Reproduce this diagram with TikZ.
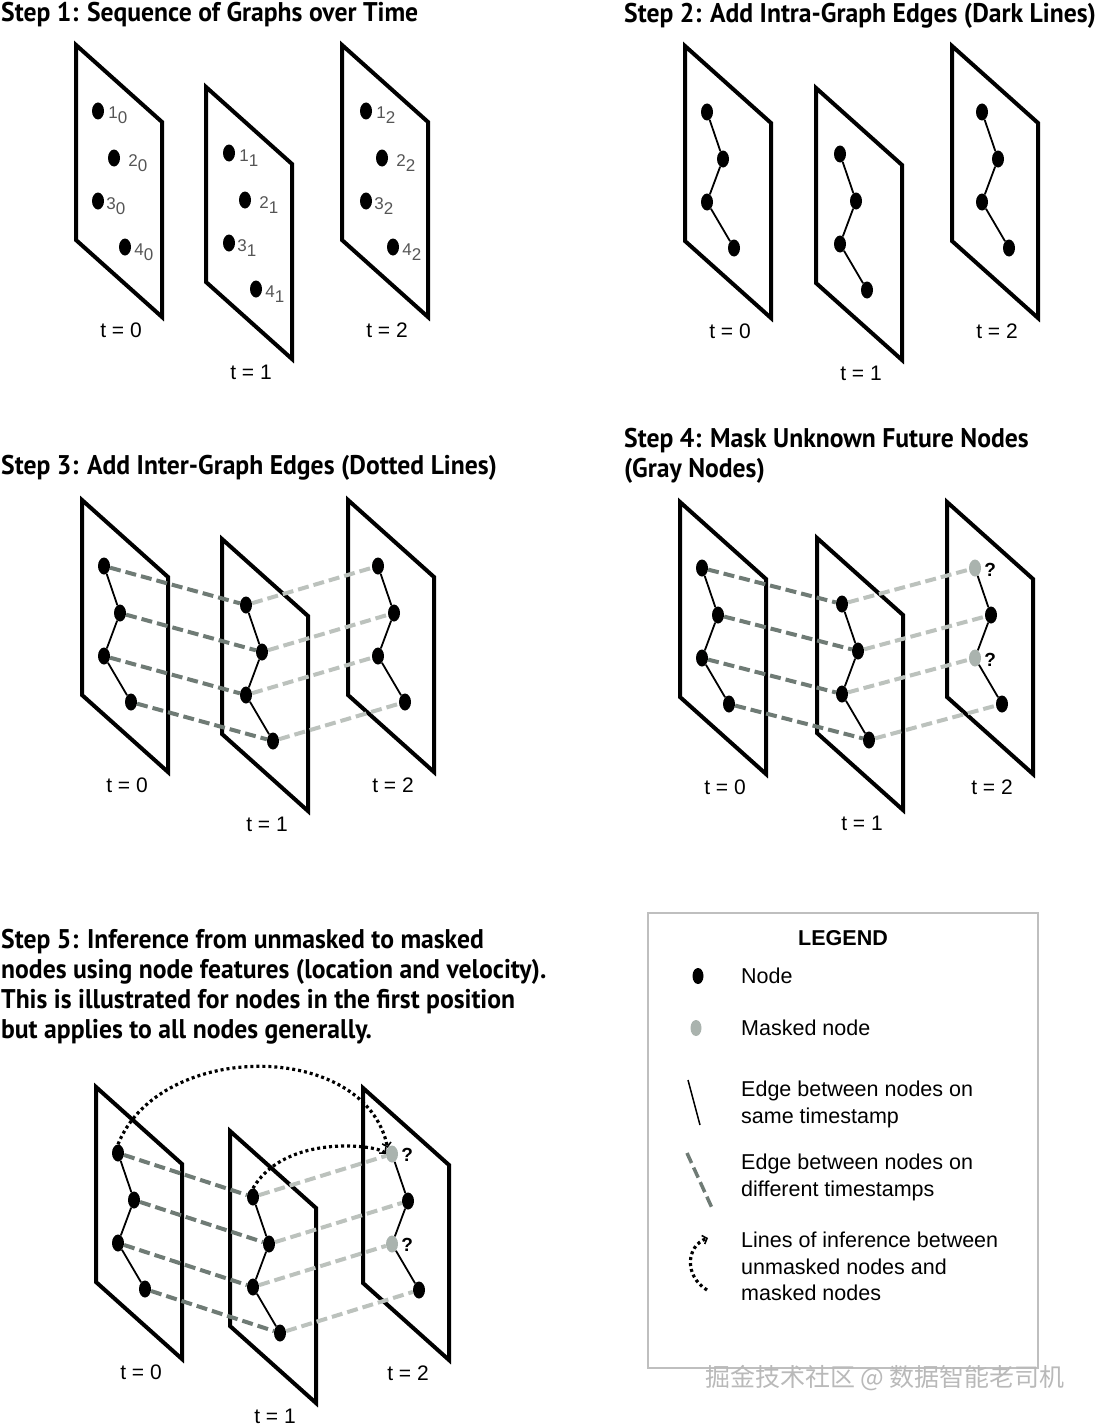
\documentclass[tikz,border=0pt]{standalone}
\usepackage{fontspec}
\setmainfont{Liberation Sans}
\newfontfamily\ttlfont{PT Sans}
\newfontfamily\cjkfont{Noto Sans CJK SC}
\usetikzlibrary{shapes.geometric,arrows.meta,positioning}

\definecolor{darkdash}{HTML}{6F7B75}
\definecolor{lightdash}{HTML}{BCC2BD}
\definecolor{maskgray}{HTML}{AAB3AE}
\definecolor{labelgray}{HTML}{555555}

\newcommand{\sx}[1]{\scalebox{0.95}[1]{#1}}
\newcommand{\sub}[1]{\raisebox{-5pt}{#1}}

% one graph at a time: frame, four nodes, time label
\newcommand{\gpanel}[6]{%
  \begin{scope}[shift={(#2,#3)}]
    \draw[pframe] (0,0) -- (86,77) -- (86,272) -- (0,195) -- cycle;
    \node[#5]    (#1-1) at (22+#4,66)  {};
    \node[gnode] (#1-2) at (38+#4,113) {};
    \node[#5]    (#1-3) at (22+#4,156) {};
    \node[gnode] (#1-4) at (49+#4,202) {};
    \node[tlab]  (#1-t) at (45,292) {t = #6};
  \end{scope}}

\tikzset{
  pframe/.style={line width=4pt},
  gnode/.style={ellipse, fill=black, inner sep=0pt, minimum width=12pt, minimum height=17pt},
  mnode/.style={gnode, fill=maskgray},
  intra/.style={line width=1.8pt},
  interdark/.style={darkdash, line width=4pt, dash pattern=on 11pt off 5pt},
  interlight/.style={interdark, lightdash},
  infer/.style={line width=3.2pt, dash pattern=on 3pt off 3pt,
    -{Straight Barb[length=4pt,width=9pt,line width=1.6pt]}},
  tlab/.style={anchor=base, inner sep=0pt, font=\fontsize{21}{25}\selectfont},
  nlab/.style={anchor=base west, inner sep=0pt, text=labelgray, font=\fontsize{17}{20}\selectfont},
  qlab/.style={anchor=base west, inner sep=0pt, font=\bfseries\fontsize{19}{22}\selectfont},
  steptitle/.style={inner sep=0pt, align=left, font=\ttlfont\bfseries\fontsize{27}{30}\selectfont},
  legtext/.style={inner sep=0pt, align=left, font=\fontsize{21.5}{26.5}\selectfont},
}

\begin{document}
\begin{tikzpicture}[x=1pt,y=-1pt]
  \useasboundingbox (0,0) rectangle (1100,1426);

  % Step 1
  \node[steptitle, anchor=base west] (t1) at (1,22) {\sx{Step 1: Sequence of Graphs over Time}};
  \gpanel{a0}{76}{45}{0}{gnode}{0}
  \gpanel{a1}{206}{87}{1}{gnode}{1}
  \gpanel{a2}{342}{45}{2}{gnode}{2}
  \foreach \t in {0,1,2} {
    \foreach \k/\g in {1/4,2/8,3/2,4/3} {
      \node[nlab] (a\t-\k-l) at ([xshift=\g pt, yshift=-8pt]a\t-\k.east) {\k\sub{\t}};
    }
  }

  % Step 2
  \node[steptitle, anchor=base west] (t2) at (624,23) {\sx{Step 2: Add Intra-Graph Edges (Dark Lines)}};
  \gpanel{b0}{685}{46}{0}{gnode}{0}
  \gpanel{b1}{816}{88}{2}{gnode}{1}
  \gpanel{b2}{952}{46}{8}{gnode}{2}
  \foreach \t in {0,1,2} {
    \draw[intra] (b\t-1) -- (b\t-2) -- (b\t-3) -- (b\t-4);
  }

  % Step 3
  \node[steptitle, anchor=base west] (t3) at (1,474) {\sx{Step 3: Add Inter-Graph Edges (Dotted Lines)}};
  \gpanel{c0}{82}{500}{0}{gnode}{0}
  \gpanel{c1}{222}{539}{2}{gnode}{1}
  \gpanel{c2}{348}{500}{8}{gnode}{2}
  \foreach \k in {1,...,4} {
    \draw[interdark] (c0-\k) -- (c1-\k);
    \draw[interlight] (c1-\k) -- (c2-\k);
  }
  \foreach \t in {0,1,2} {
    \draw[intra] (c\t-1) -- (c\t-2) -- (c\t-3) -- (c\t-4);
  }

  % Step 4
  \node[steptitle, anchor=north west] (t4) at (624,428)
    {\sx{Step 4: Mask Unknown Future Nodes}\\\sx{(Gray Nodes)}};
  \gpanel{d0}{680}{502}{0}{gnode}{0}
  \gpanel{d1}{817}{538}{3}{gnode}{1}
  \gpanel{d2}{947}{502}{6}{mnode}{2}
  \foreach \k in {1,...,4} {
    \draw[interdark] (d0-\k) -- (d1-\k);
    \draw[interlight] (d1-\k) -- (d2-\k);
  }
  \foreach \t in {0,1,2} {
    \draw[intra] (d\t-1) -- (d\t-2) -- (d\t-3) -- (d\t-4);
  }
  \node[qlab] (d2-1q) at ([xshift=3pt, yshift=-8pt]d2-1.east) {?};
  \node[qlab] (d2-3q) at ([xshift=3pt, yshift=-8pt]d2-3.east) {?};

  % Step 5
  \node[steptitle, anchor=north west] (t5) at (1,929)
    {\sx{Step 5: Inference from unmasked to masked}\\
     \sx{nodes using node features (location and velocity).}\\
     \sx{This is illustrated for nodes in the first position}\\
     \sx{but applies to all nodes generally.}};
  \gpanel{e0}{96}{1087}{0}{gnode}{0}
  \gpanel{e1}{230}{1131}{1}{gnode}{1}
  \gpanel{e2}{363}{1088}{7}{mnode}{2}
  \foreach \k in {1,...,4} {
    \draw[interdark] (e0-\k) -- (e1-\k);
    \draw[interlight] (e1-\k) -- (e2-\k);
  }
  \foreach \t in {0,1,2} {
    \draw[intra] (e\t-1) -- (e\t-2) -- (e\t-3) -- (e\t-4);
  }
  \node[qlab] (e2-1q) at ([xshift=3pt, yshift=-7pt]e2-1.east) {?};
  \node[qlab] (e2-3q) at ([xshift=3pt, yshift=-7pt]e2-3.east) {?};
  \draw[infer] (e0-1.north) .. controls (160,1040) and (365,1040) .. (e2-1.north west);
  \draw[infer] (e1-1.north) .. controls (285,1133) and (378,1145) .. (e2-1.west);

  % Legend
  \draw[gray!50, line width=1.5pt] (648,913) rectangle (1038,1368);
  \node[anchor=base, inner sep=0pt, font=\bfseries\fontsize{21.5}{24}\selectfont] (lg) at (843,945) {LEGEND};
  \node[gnode, minimum width=11pt, minimum height=16pt] (lg-n) at (698,976) {};
  \node[mnode, minimum width=11pt, minimum height=16pt] (lg-m) at (696,1028) {};
  \draw[line width=1.5pt] (688,1080) -- (700,1125);
  \draw[interdark, line width=3.5pt] (687,1153) -- (712,1208);
  \draw[infer] (707,1290) .. controls (684,1276) and (686,1246) .. (708,1238);
  \node[legtext, anchor=base west] (lg-nt) at (741,983) {Node};
  \node[legtext, anchor=base west] (lg-mt) at (741,1035) {Masked node};
  \node[legtext, anchor=north west] (lg-st) at (741,1081) {Edge between nodes on\\same timestamp};
  \node[legtext, anchor=north west] (lg-dt) at (741,1154) {Edge between nodes on\\different timestamps};
  \node[legtext, anchor=north west] (lg-it) at (741,1232) {Lines of inference between\\unmasked nodes and\\masked nodes};

  % watermark
  \node[text=gray!55, inner sep=0pt, font=\cjkfont\fontsize{25}{28}\selectfont] (wm) at (885,1378)
    {掘金技术社区 @ 数据智能老司机};
\end{tikzpicture}
\end{document}
